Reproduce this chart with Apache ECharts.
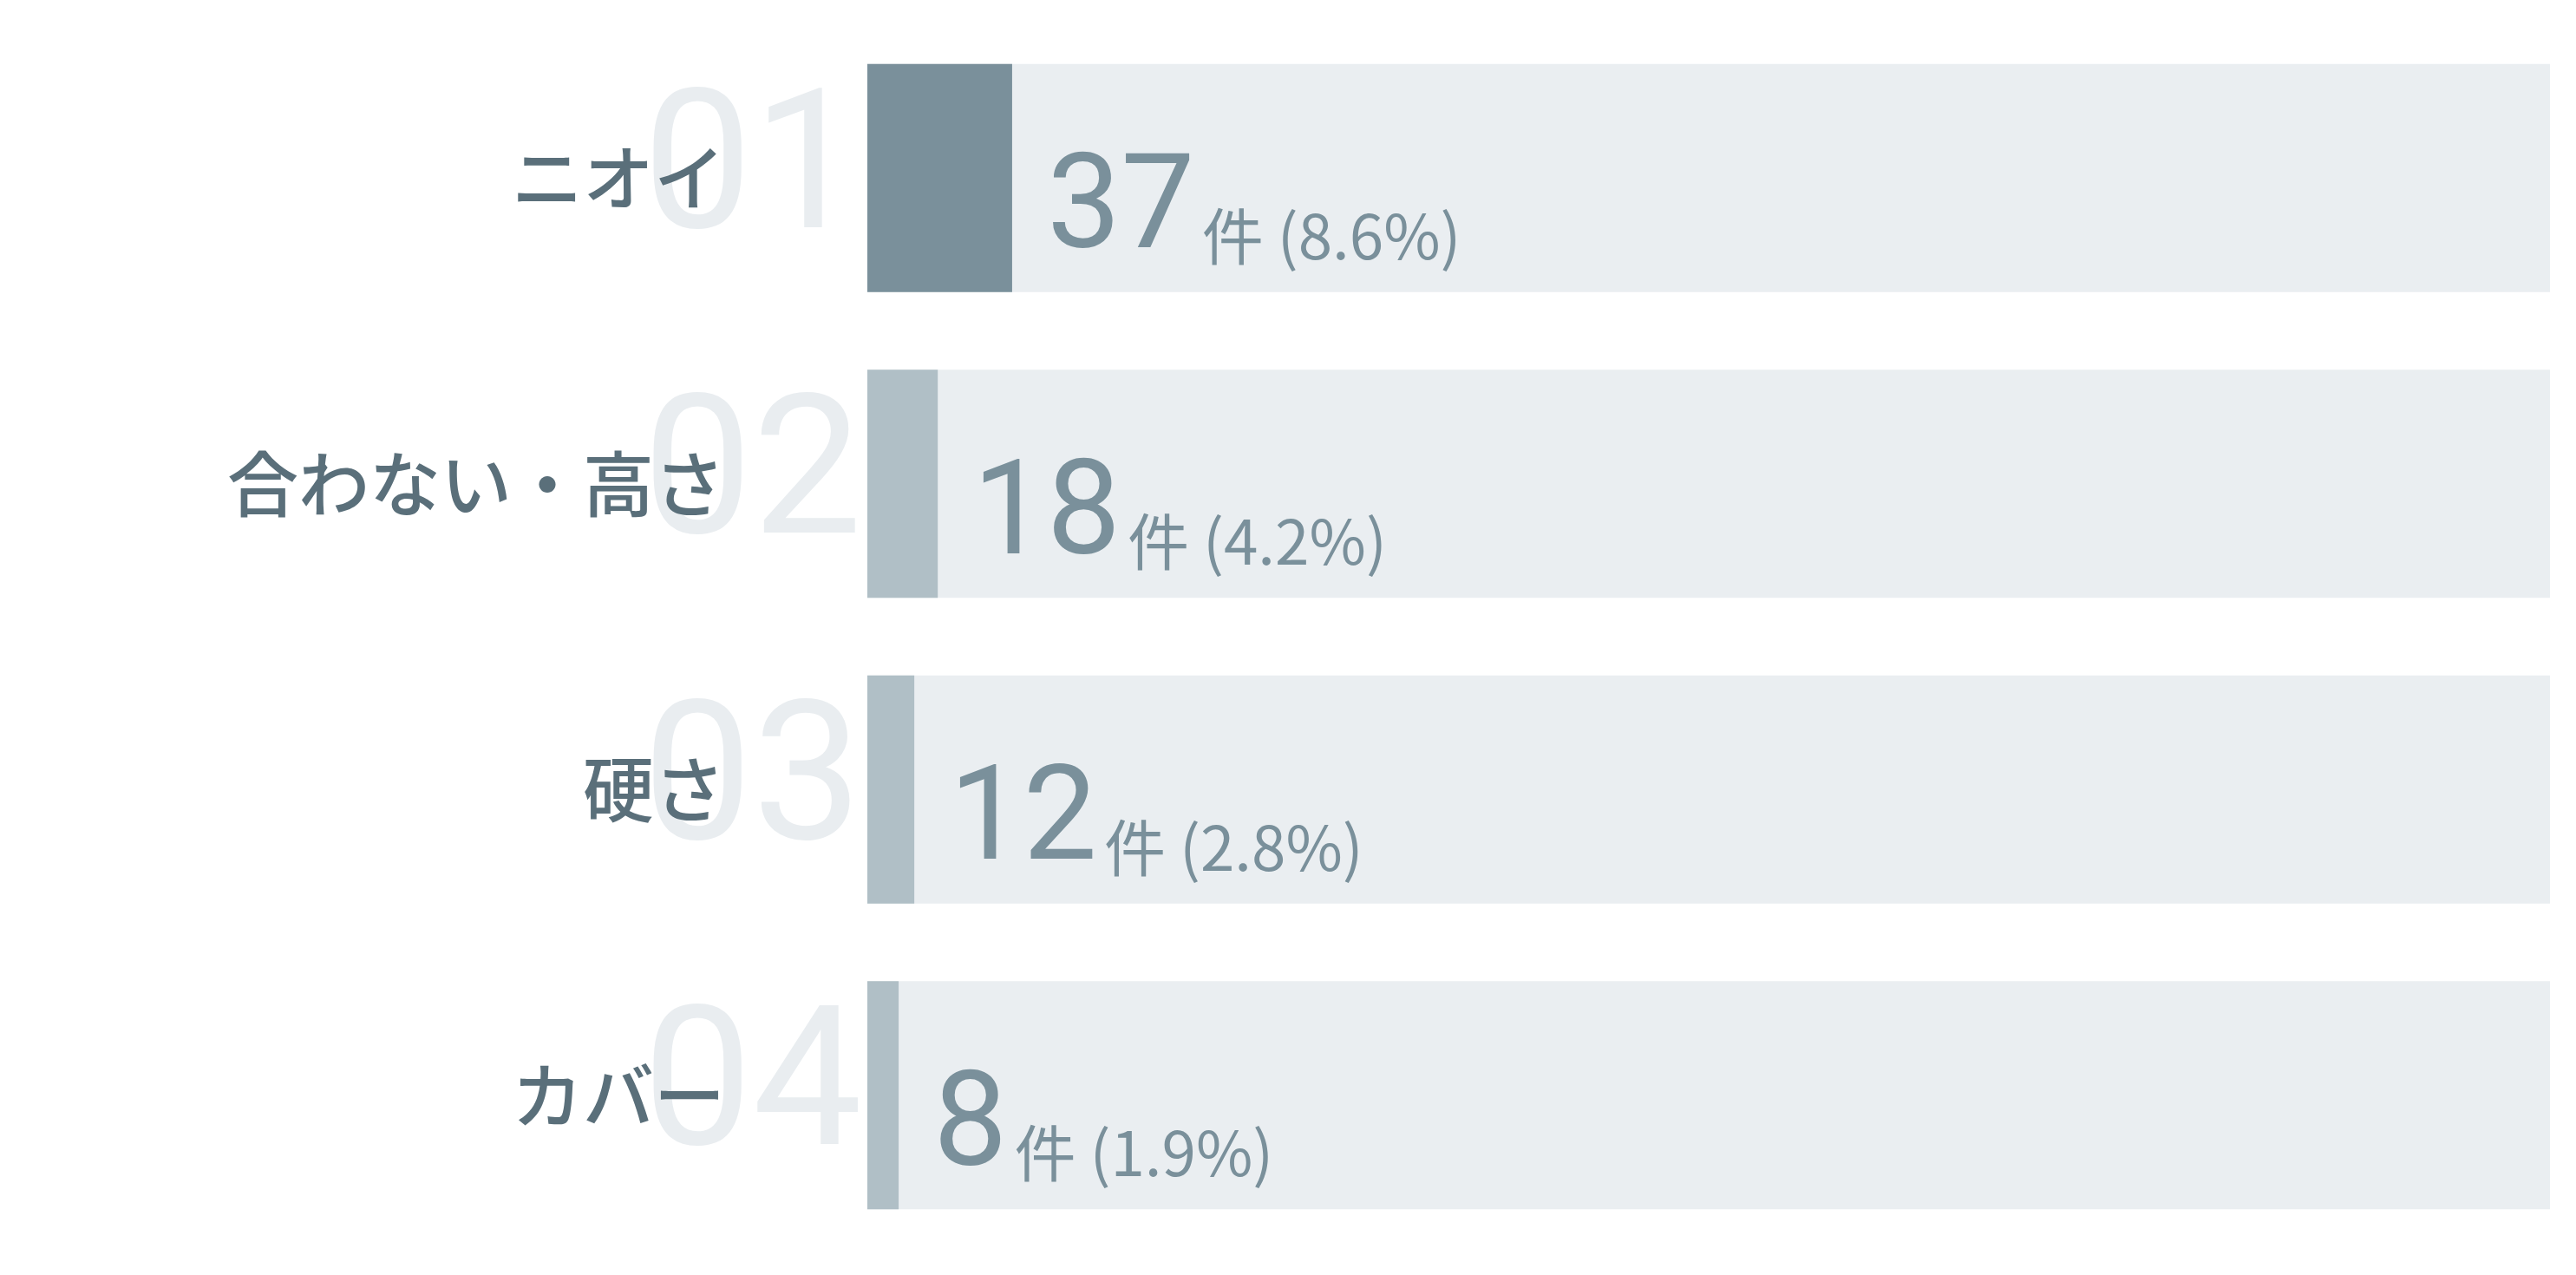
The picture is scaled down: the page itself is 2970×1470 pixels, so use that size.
<!DOCTYPE html>
<html>
<head>
<meta charset="utf-8">
<script src="https://cdn.jsdelivr.net/npm/echarts@6/dist/echarts.min.js"></script>
<style>
html, body { margin: 0; padding: 0; background: #fff; }
#chart { width: 2970px; height: 1470px; }
</style>
</head>
<body>
<div id="chart"></div>
<script>
// 回答データ
var categories = ['ニオイ', '合わない・高さ', '硬さ', 'カバー'];
var ranks = ['01', '02', '03', '04'];
var counts = [37, 18, 12, 8];
var percents = ['8.6', '4.2', '2.8', '1.9'];
var total = 430;

var myChart = echarts.init(document.getElementById('chart'));

var barData = counts.map(function (v, i) {
    return {
        value: v,
        itemStyle: { color: i === 0 ? '#7a909b' : '#b0bfc6' }
    };
});

option = {
    animation: false,
    grid: { left: 1000, right: 30, top: 29, bottom: 31, outerBoundsMode: 'none', containLabel: false },
    xAxis: {
        type: 'value',
        min: 0,
        max: total,
        show: false
    },
    yAxis: [
        {
            // 順位（背景の大きな数字）
            type: 'category',
            data: ranks,
            inverse: true,
            axisLine: { show: false },
            axisTick: { show: false },
            splitLine: { show: false },
            axisLabel: {
                margin: 6,
                color: '#e9edf0',
                fontSize: 225,
                fontFamily: 'Roboto',
                fontWeight: 400,
                padding: [0, 0, 40, 0]
            }
        },
        {
            type: 'category',
            data: categories,
            inverse: true,
            position: 'left',
            axisLine: { show: false },
            axisTick: { show: false },
            splitLine: { show: false },
            axisLabel: {
                margin: 164,
                color: '#5a6f7a',
                fontSize: 82,
                fontWeight: 500,
                fontFamily: 'Noto Sans CJK JP',
                padding: [0, 0, 10, 0]
            }
        }
    ],
    series: [
        {
            type: 'bar',
            yAxisIndex: 1,
            barWidth: 263,
            data: barData,
            showBackground: true,
            backgroundStyle: { color: '#eaeef1' },
            label: {
                show: true,
                position: 'right',
                distance: 40,
                offset: [0, 43],
                formatter: function (p) {
                    return '{n|' + p.value + '}{u|件 (' + percents[p.dataIndex] + '%)}';
                },
                rich: {
                    n: {
                        fontSize: 152,
                        lineHeight: 150,
                        color: '#7a909b',
                        fontFamily: 'Roboto',
                        verticalAlign: 'bottom'
                    },
                    u: {
                        fontSize: 71,
                        lineHeight: 71,
                        color: '#7a909b',
                        fontFamily: 'Noto Sans CJK JP',
                        verticalAlign: 'bottom',
                        padding: [0, 0, 16, 8]
                    }
                }
            }
        }
    ]
};
myChart.setOption(option);
</script>
</body>
</html>
